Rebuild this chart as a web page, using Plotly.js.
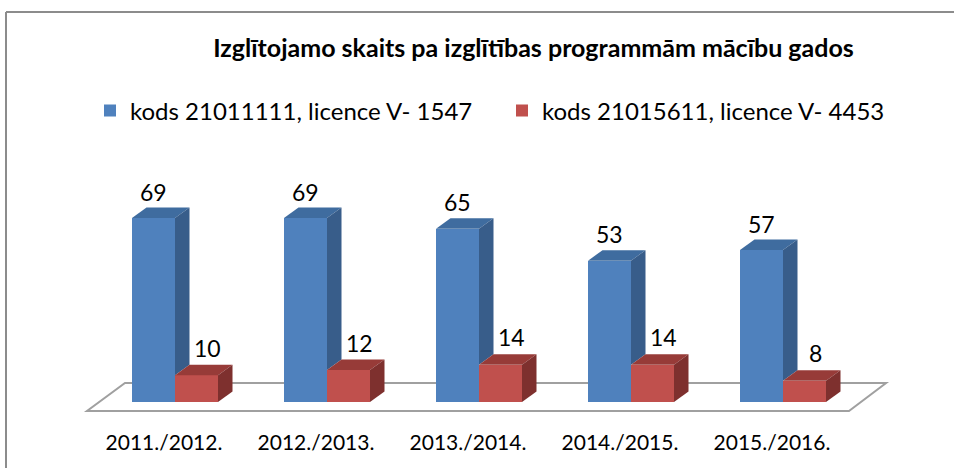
<!DOCTYPE html>
<html>
<head>
<meta charset="utf-8">
<script src="https://cdn.plot.ly/plotly-3.0.1.min.js"></script>
<style>html,body{margin:0;padding:0;background:#fff;}#chart{width:954px;height:468px;}</style>
</head>
<body>
<div id="chart"></div>
<script>
// ---- data ----
const categories = ["2011./2012.", "2012./2013.", "2013./2014.", "2014./2015.", "2015./2016."];
const seriesNames = ["kods 21011111, licence V- 1547", "kods 21015611, licence V- 4453"];
const blueValues = [69, 69, 65, 53, 57];
const redValues = [10, 12, 14, 14, 8];

// ---- styling / geometry ----
const FONT = "Lato, 'Open Sans', sans-serif";
const W = 954, H = 468;
const M = {l: 23, r: 19, t: 162, b: 50};
const XR = [-1, 5], YR = [-6, 90];
const plotW = W - M.l - M.r, plotH = H - M.t - M.b;
const pxX = plotW / (XR[1] - XR[0]);
const pxY = plotH / (YR[1] - YR[0]);
const BW = 43 / pxX;          // bar width in x units
const DX = 14.5 / pxX;         // depth offset x
const DY = 10.5 / pxY;         // depth offset y
const TICK_SHIFT = -11 / pxX;  // perspective offset of category labels
const blueC = {front: "#4F81BD", top: "#3F6C9F", side: "#385D8A"};
const redC = {front: "#C0504D", top: "#973B38", side: "#7E302E"};

const idx = categories.map((c, i) => i);
const xBlue = idx.map(i => i - BW / 2);
const xRed = idx.map(i => i + BW / 2);

const traces = [];
traces.push({type: "bar", name: seriesNames[0], x: xBlue, y: blueValues, width: BW,
  marker: {color: blueC.front, line: {width: 0}}, hoverinfo: "skip"});
traces.push({type: "bar", name: seriesNames[1], x: xRed, y: redValues, width: BW,
  marker: {color: redC.front, line: {width: 0}}, hoverinfo: "skip"});

function poly(xs, ys, color) {
  traces.push({type: "scatter", mode: "lines", x: xs.concat([xs[0]]), y: ys.concat([ys[0]]),
    fill: "toself", fillcolor: color, line: {width: 0, color: color},
    showlegend: false, hoverinfo: "skip"});
}
idx.forEach(i => {
  const vb = blueValues[i], vr = redValues[i];
  const bl = xBlue[i] - BW / 2, br = xBlue[i] + BW / 2;
  const rl = xRed[i] - BW / 2, rr = xRed[i] + BW / 2;
  poly([bl, br, br + DX, bl + DX], [vb, vb, vb + DY, vb + DY], blueC.top);
  const cut = Math.min(vr, vb);
  poly([br, br, br + DX, br + DX], [cut, vb, vb + DY, cut + DY], blueC.side);
  poly([rl, rr, rr + DX, rl + DX], [vr, vr, vr + DY, vr + DY], redC.top);
  poly([rr, rr, rr + DX, rr + DX], [0, vr, vr + DY, DY], redC.side);
});

const annotations = [];
idx.forEach(i => {
  annotations.push({x: xBlue[i], y: blueValues[i], text: String(blueValues[i]), showarrow: false,
    yshift: 10.5 + 16, xanchor: "center", yanchor: "middle", font: {family: FONT, size: 23, color: "#000"}});
  annotations.push({x: xRed[i] + 0.07, y: redValues[i], text: String(redValues[i]), showarrow: false,
    yshift: 10.5 + 17, xanchor: "center", yanchor: "middle", font: {family: FONT, size: 23, color: "#000"}});
});

// floor (parallelogram)
const n = categories.length;
const fl = {fl: -0.579, fr: n - 1 + 0.434, bl: -0.329, br: n - 1 + 0.678, fy: -3.375, by: 7.125};
const px2paperX = p => (p - M.l) / plotW;
const px2paperY = p => (H - M.b - p) / plotH;
const shapes = [
  {type: "path", xref: "x", yref: "y", layer: "below",
   path: `M${fl.fl},${fl.fy} L${fl.fr},${fl.fy} L${fl.br},${fl.by} L${fl.bl},${fl.by} Z`,
   fillcolor: "#ffffff", line: {color: "#A0A0A0", width: 2}},
  {type: "line", xref: "paper", yref: "paper", layer: "below",
   x0: px2paperX(6), x1: px2paperX(960), y0: px2paperY(12), y1: px2paperY(12),
   line: {color: "#8C8C8C", width: 2}},
  {type: "line", xref: "paper", yref: "paper", layer: "below",
   x0: px2paperX(6), x1: px2paperX(6), y0: px2paperY(12), y1: px2paperY(475),
   line: {color: "#8C8C8C", width: 2}}
];

const layout = {
  width: W, height: H, margin: M,
  paper_bgcolor: "#fff", plot_bgcolor: "rgba(0,0,0,0)",
  barmode: "overlay", bargap: 0,
  title: {text: "<b>Izglītojamo skaits pa izglītības programmām mācību gados</b>",
    font: {family: FONT, size: 25, color: "#000"},
    xref: "container", yref: "container", x: 533.5 / W, xanchor: "center", y: 1 - 48 / H, yanchor: "middle"},
  xaxis: {range: XR, tickvals: idx.map(i => i + TICK_SHIFT), ticktext: categories, showgrid: false, zeroline: false,
    showline: false, ticks: "", ticklabelstandoff: 10,
    tickfont: {family: FONT, size: 21, color: "#000"}, fixedrange: true},
  yaxis: {range: YR, showgrid: false, zeroline: false, showline: false, showticklabels: false, fixedrange: true},
  showlegend: true,
  legend: {orientation: "h", x: 90 / W, xref: "container", y: 1 - 111 / H, yref: "container",
    xanchor: "left", yanchor: "middle", entrywidth: 367, entrywidthmode: "pixels",
    font: {family: FONT, size: 24, color: "#000"}, bgcolor: "rgba(0,0,0,0)", traceorder: "normal"},
  annotations: annotations,
  shapes: shapes
};

Plotly.newPlot("chart", traces, layout, {displayModeBar: false, staticPlot: true});
</script>
</body>
</html>
